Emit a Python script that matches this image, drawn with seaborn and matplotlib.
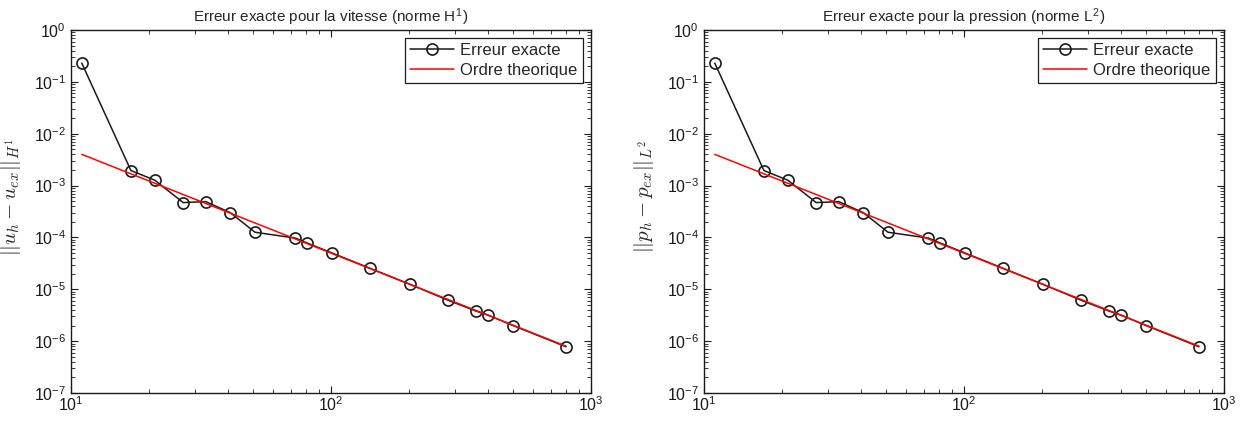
import numpy as np
import pandas as pd
import matplotlib
matplotlib.use("Agg")
import matplotlib.pyplot as plt
import seaborn as sns
from matplotlib.ticker import LogLocator, NullFormatter

sns.set_theme(style="white")
plt.rcParams['font.family'] = ['Liberation Sans', 'DejaVu Sans']
plt.rcParams['mathtext.fontset'] = 'cm'

# Data
n_points = [11, 17, 21, 27, 33, 41, 51, 73, 81, 101, 141, 201, 281, 361, 401, 501, 801]
err_vitesse = [2.3e-1, 1.95e-3, 1.27e-3, 4.7e-4, 4.9e-4, 3.0e-4, 1.26e-4, 9.7e-5,
               7.8e-5, 5.0e-5, 2.55e-5, 1.25e-5, 6.2e-6, 3.8e-6, 3.2e-6, 2.0e-6, 7.8e-7]
err_pression = [2.3e-1, 1.95e-3, 1.27e-3, 4.7e-4, 4.9e-4, 3.0e-4, 1.26e-4, 9.7e-5,
                7.8e-5, 5.0e-5, 2.55e-5, 1.25e-5, 6.2e-6, 3.8e-6, 3.2e-6, 2.0e-6, 7.8e-7]
theo_x = [11, 801]
theo_y = [4.0e-3, 8.0e-7]

titles = ["Erreur exacte pour la vitesse (norme H$^{\\mathregular{1}}$)",
          "Erreur exacte pour la pression (norme L$^{\\mathregular{2}}$)"]
ylabels = [r"$||u_h - u_{ex}||_{H^1}$", r"$||p_h - p_{ex}||_{L^2}$"]
legend_labels = ["Erreur exacte", "Ordre theorique"]

fig = plt.figure(figsize=(12.47, 4.26), dpi=100)
positions = [[71/1247, 1-393/426, 520/1247, 363/426],
             [704/1247, 1-393/426, 520/1247, 363/426]]

for pos, errs, title, ylab in zip(positions, [err_vitesse, err_pression], titles, ylabels):
    ax = fig.add_axes(pos)
    ax.set_xscale('log')
    ax.set_yscale('log')
    df = pd.DataFrame({"n": n_points, "err": errs})
    dft = pd.DataFrame({"n": theo_x, "err": theo_y})
    sns.lineplot(data=df, x="n", y="err", ax=ax, color='k', marker='o',
                 markerfacecolor='none', markeredgecolor='k', markeredgewidth=1.2,
                 markersize=8, linewidth=1.1, label=legend_labels[0])
    sns.lineplot(data=dft, x="n", y="err", ax=ax, color='#ff0000', linewidth=1.1,
                 label=legend_labels[1])
    ax.set_xlim(10, 1000)
    ax.set_ylim(1e-7, 1)
    ax.xaxis.set_major_locator(LogLocator(base=10, numticks=10))
    ax.yaxis.set_major_locator(LogLocator(base=10, numticks=10))
    ax.xaxis.set_minor_locator(LogLocator(base=10, subs=np.arange(2, 10), numticks=20))
    ax.yaxis.set_minor_locator(LogLocator(base=10, subs=np.arange(2, 10), numticks=20))
    ax.xaxis.set_minor_formatter(NullFormatter())
    ax.yaxis.set_minor_formatter(NullFormatter())
    ax.tick_params(which='both', direction='in', top=True, right=True,
                   bottom=True, left=True, colors='k', labelsize=11.5)
    ax.tick_params(axis='x', which='major', pad=2)
    ax.tick_params(which='major', length=5, width=0.8)
    ax.tick_params(which='minor', length=3, width=0.6)
    for sp in ax.spines.values():
        sp.set_color('k')
        sp.set_linewidth(1.0)
    ax.set_title(title, fontsize=11, pad=6)
    ax.set_xlabel("")
    ax.set_ylabel(ylab, fontsize=15)
    ax.yaxis.set_label_coords(-0.092, 0.54)
    leg = ax.legend(loc='upper right', fontsize=12, fancybox=False, edgecolor='k',
                    framealpha=1, borderaxespad=0.5, handlelength=2.6,
                    borderpad=0.3, labelspacing=0.25, handletextpad=0.4)
    leg.get_frame().set_linewidth(0.9)

fig.savefig("out.png", dpi=100)
